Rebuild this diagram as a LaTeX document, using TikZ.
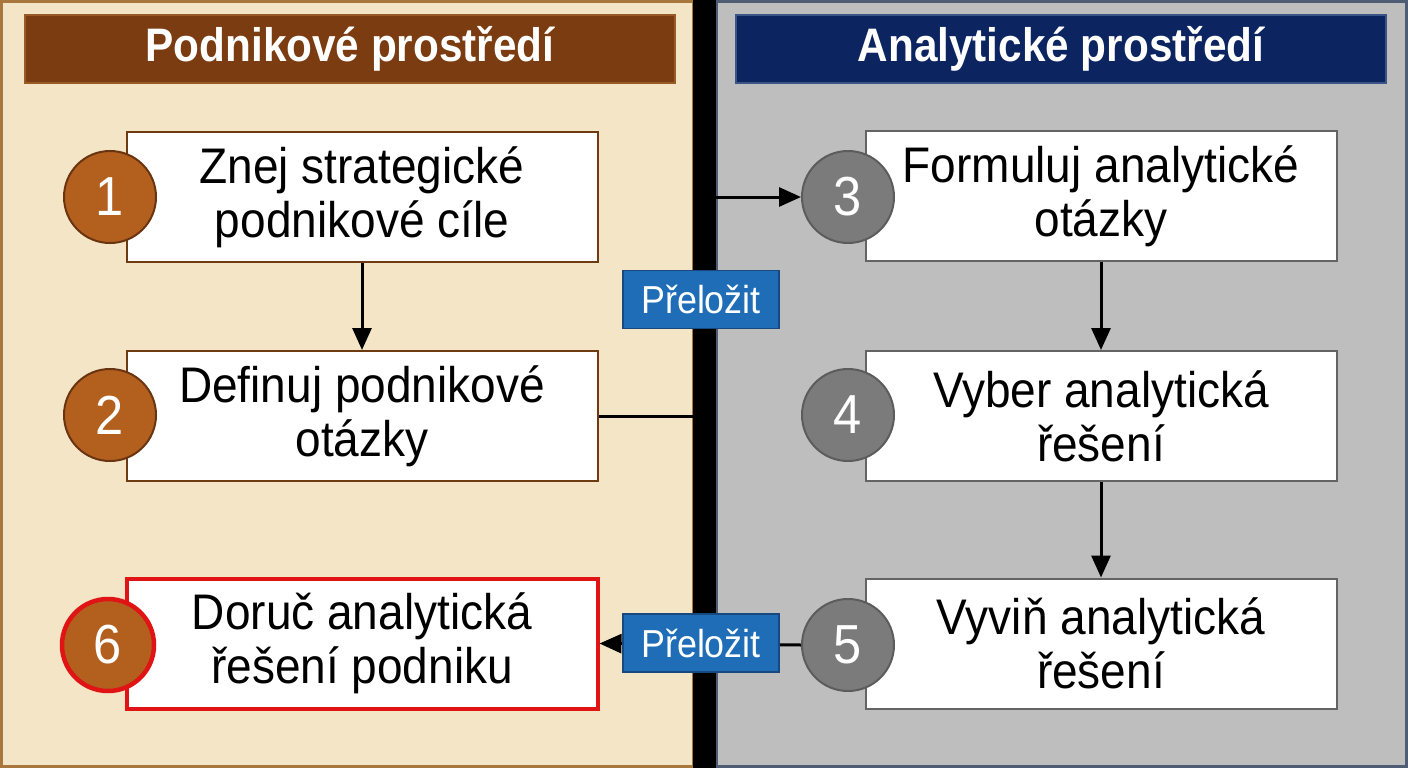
\documentclass[tikz,border=0pt]{standalone}
\usepackage{fontspec}
\setmainfont{Liberation Sans}
\newfontfamily\boxfont[FakeStretch=0.92]{Liberation Sans}
\newfontfamily\hdrfont[FakeStretch=0.9]{Liberation Sans}
\usetikzlibrary{arrows.meta}
\definecolor{leftbg}{HTML}{F3E5C5}
\definecolor{leftborder}{HTML}{A8773E}
\definecolor{rightbg}{HTML}{BEBEBE}
\definecolor{rightborder}{HTML}{4E5D74}
\definecolor{hdrbrown}{HTML}{7A3C10}
\definecolor{hdrbrownedge}{HTML}{9A5A25}
\definecolor{hdrnavy}{HTML}{0C2560}
\definecolor{hdrnavyedge}{HTML}{3A5585}
\definecolor{boxbrown}{HTML}{6E3A12}
\definecolor{boxgray}{HTML}{646464}
\definecolor{circbrown}{HTML}{B3601F}
\definecolor{circbrownedge}{HTML}{6B3410}
\definecolor{circgray}{HTML}{7B7B7B}
\definecolor{circgrayedge}{HTML}{5C5C5C}
\definecolor{alertred}{HTML}{E01414}
\definecolor{tagblue}{HTML}{1E6DB6}
\definecolor{tagedge}{HTML}{17497F}
\tikzset{
  hdr/.style={minimum width=650pt, minimum height=68pt, inner sep=0pt, line width=1.5pt,
    text=white, font=\hdrfont\fontsize{47}{50}\selectfont\bfseries},
  stepbox/.style={draw, fill=white, minimum width=471pt, minimum height=130pt, inner sep=0pt,
    line width=2pt, align=center, font=\boxfont\fontsize{50}{54}\selectfont},
  numcirc/.style={circle, minimum size=92pt, inner sep=0pt, line width=2pt, text=white,
    font=\boxfont\fontsize{55}{55}\selectfont},
  tag/.style={fill=tagblue, draw=tagedge, line width=1.5pt, minimum width=156pt, minimum height=58pt,
    inner sep=0pt, text=white, font=\boxfont\fontsize{39}{40}\selectfont},
  arr/.style={line width=3pt, -{Triangle[length=22pt,width=19pt]}},
  plain/.style={line width=3pt}
}
\begin{document}
\begin{tikzpicture}[x=1pt,y=-1pt]
\useasboundingbox (0,0) rectangle (1408,768);
% panels
\filldraw[fill=leftbg, draw=leftborder, line width=3pt] (1.5,1.5) rectangle (693,766.5);
\filldraw[fill=rightbg, draw=rightborder, line width=3pt] (716,1.5) rectangle (1406.5,766.5);
% headers
\node[hdr, fill=hdrbrown, draw=hdrbrownedge] (hL) at (350,49) {Podnikové prostředí};
\node[hdr, fill=hdrnavy, draw=hdrnavyedge] (hR) at (1061,49) {Analytické prostředí};
% boxes
\node[stepbox, draw=boxbrown] (b1) at (362,197) {Znej strategické\\podnikové cíle};
\node[stepbox, draw=boxbrown] (b2) at (362,416) {Definuj podnikové\\otázky};
\node[stepbox, draw=alertred, line width=4pt] (b6) at (362,643.5) {Doruč analytická\\řešení podniku};
\node[stepbox, draw=boxgray] (b3) at (1101,196) {Formuluj analytické\\otázky};
\node[stepbox, draw=boxgray] (b4) at (1101,416) {Vyber analytická\\řešení};
\node[stepbox, draw=boxgray] (b5) at (1101,643.5) {Vyviň analytická\\řešení};
% circles
\node[numcirc, fill=circbrown, draw=circbrownedge] (c1) at (110,197) {1};
\node[numcirc, fill=circbrown, draw=circbrownedge] (c2) at (110,415) {2};
\node[numcirc, fill=circbrown, draw=alertred, line width=4.5pt] (c6) at (108,645) {6};
\node[numcirc, fill=circgray, draw=circgrayedge] (c3) at (848,197) {3};
\node[numcirc, fill=circgray, draw=circgrayedge] (c4) at (848,415) {4};
\node[numcirc, fill=circgray, draw=circgrayedge] (c5) at (848,645) {5};
% connectors
\draw[arr] (b1) -- (b2);
\draw[arr] (b3) -- (b4);
\draw[arr] (b4) -- (b5);
\draw[arr] (b2.east) -- (704,416) |- (c3.west);
\draw[arr] (c5.west) -- (b6.east);
% divider
\fill[black] (693,0) rectangle (716,768);
% tags
\node[tag] (t1) at (701,299.5) {Přeložit};
\node[tag] (t2) at (701,643) {Přeložit};
\end{tikzpicture}
\end{document}
